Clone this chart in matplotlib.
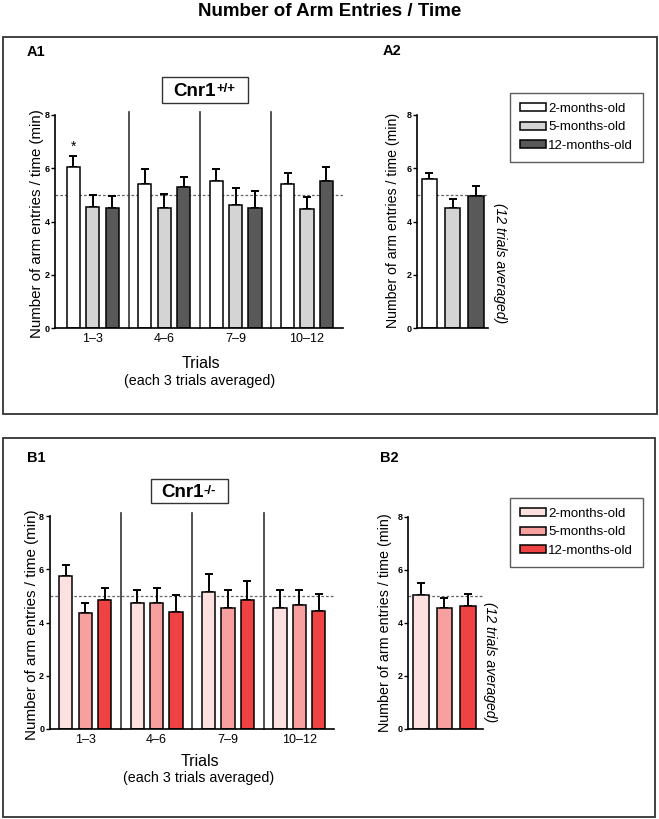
import matplotlib
matplotlib.use('Agg')
import matplotlib.pyplot as plt
from matplotlib.patches import Rectangle, Patch
import numpy as np

plt.rcParams['font.family'] = ['Liberation Sans', 'DejaVu Sans']

# ---------------- data ----------------
trial_blocks = ['1–3', '4–6', '7–9', '10–12']
age_groups = ['2-months-old', '5-months-old', '12-months-old']
chance_level = 5.0

# Cnr1+/+ (wild type), each 3 trials averaged
wt_2m = [6.04, 5.40, 5.53, 5.40]
wt_2m_sem = [0.42, 0.56, 0.46, 0.44]
wt_5m = [4.55, 4.49, 4.63, 4.46]
wt_5m_sem = [0.44, 0.54, 0.63, 0.45]
wt_12m = [4.51, 5.30, 4.51, 5.53]
wt_12m_sem = [0.44, 0.39, 0.62, 0.51]
# Cnr1+/+ 12 trials averaged
wt_avg = [5.58, 4.51, 4.95]
wt_avg_sem = [0.26, 0.32, 0.38]

# Cnr1-/- (knock out), each 3 trials averaged
ko_2m = [5.76, 4.75, 5.15, 4.56]
ko_2m_sem = [0.39, 0.48, 0.66, 0.67]
ko_5m = [4.35, 4.75, 4.56, 4.65]
ko_5m_sem = [0.40, 0.53, 0.67, 0.58]
ko_12m = [4.85, 4.40, 4.85, 4.45]
ko_12m_sem = [0.43, 0.65, 0.71, 0.61]
# Cnr1-/- 12 trials averaged
ko_avg = [5.05, 4.55, 4.65]
ko_avg_sem = [0.46, 0.37, 0.44]

wt_colors = ['#ffffff', '#d4d4d4', '#595959']
ko_colors = ['#fde0e0', '#f8a0a0', '#ef4242']

W, H = 659, 819
fig = plt.figure(figsize=(W / 100, H / 100), dpi=100)


def fx(px):
    return px / W


def fy(py):
    return 1 - py / H


def axes_px(x0, x1, y0, y1):
    return fig.add_axes([fx(x0), fy(y1), (x1 - x0) / W, (y1 - y0) / H])


def style(ax):
    for s in ['top', 'right']:
        ax.spines[s].set_visible(False)
    for s in ['left', 'bottom']:
        ax.spines[s].set_linewidth(1.2)
    ax.set_ylim(0, 8)
    ax.set_yticks([0, 2, 4, 6, 8])
    ax.tick_params(axis='y', length=3, width=1.0, pad=0.8, labelsize=6.5)
    for lab in ax.get_yticklabels():
        lab.set_fontweight('bold')
    ax.tick_params(axis='x', length=0, pad=3.5, labelsize=9)
    ax.axhline(chance_level, ls=(0, (2.2, 1.6)), color='#666666', lw=0.9, zorder=0.5)


def grouped(ax, series, sems, colors, xlim):
    x = np.arange(len(trial_blocks))
    offsets = [-0.272, 0.0, 0.272]
    for vals, err, c, off in zip(series, sems, colors, offsets):
        ax.bar(x + off, vals, width=0.185, color=c, edgecolor='black',
               linewidth=1.1, zorder=2)
        ax.errorbar(x + off, vals, yerr=[np.zeros(len(vals)), err], fmt='none',
                    ecolor='black', elinewidth=1.4, capsize=2.6, capthick=1.4,
                    zorder=1)
    for sep in x[:-1] + 0.5:
        ax.plot([sep, sep], [0, 8.1], color='#333333', lw=1.2, clip_on=False,
                zorder=1)
    ax.set_xticks(x)
    ax.set_xticklabels(trial_blocks)
    ax.set_xlim(*xlim)
    style(ax)


def averaged(ax, vals, err, colors, xlim):
    x = np.arange(len(age_groups))
    ax.bar(x, vals, width=0.66, color=colors, edgecolor='black', linewidth=1.1,
           zorder=2)
    ax.errorbar(x, vals, yerr=[np.zeros(len(vals)), err], fmt='none',
                ecolor='black', elinewidth=1.4, capsize=2.8, capthick=1.4,
                zorder=1)
    ax.set_xticks([])
    ax.set_xlim(*xlim)
    style(ax)


# ---------------- frames ----------------
for (x0, y0, x1, y1) in [(3, 37, 657, 414), (3, 438, 655, 817)]:
    fig.add_artist(Rectangle((fx(x0), fy(y1)), (x1 - x0) / W, (y1 - y0) / H,
                             transform=fig.transFigure, fill=False, lw=1.3,
                             ec='#333333'))

fig.text(0.5, fy(11.5), 'Number of Arm Entries / Time', ha='center', va='center',
         fontsize=13.5, fontweight='bold')

# ---------------- A1 ----------------
axA1 = axes_px(55, 342.7, 115, 328)
grouped(axA1, [wt_2m, wt_5m, wt_12m], [wt_2m_sem, wt_5m_sem, wt_12m_sem],
        wt_colors, (-0.53, 3.5))
axA1.text(0 - 0.272, wt_2m[0] + wt_2m_sem[0] + 0.08, '*', ha='center',
          va='bottom', fontsize=10)

# ---------------- A2 ----------------
axA2 = axes_px(416.7, 487.7, 115, 328)
averaged(axA2, wt_avg, wt_avg_sem, wt_colors, (-0.54, 2.51))

# ---------------- B1 ----------------
axB1 = axes_px(49.5, 334.3, 516, 729)
grouped(axB1, [ko_2m, ko_5m, ko_12m], [ko_2m_sem, ko_5m_sem, ko_12m_sem],
        ko_colors, (-0.5, 3.49))

# ---------------- B2 ----------------
axB2 = axes_px(408.3, 483.3, 516.7, 729)
averaged(axB2, ko_avg, ko_avg_sem, ko_colors, (-0.53, 2.66))

# ---------------- texts ----------------
ylab = 'Number of arm entries / time (min)'
fig.text(fx(37.5), fy(224), ylab, rotation=90, ha='center', va='center', fontsize=10.8)
fig.text(fx(392.5), fy(220.5), ylab, rotation=90, ha='center', va='center', fontsize=10.2)
fig.text(fx(32), fy(625), ylab, rotation=90, ha='center', va='center', fontsize=10.9)
fig.text(fx(385), fy(622.5), ylab, rotation=90, ha='center', va='center', fontsize=10.3)

fig.text(fx(500), fy(263), '(12 trials averaged)', rotation=270, ha='center',
         va='center', fontsize=10.1, style='italic')
fig.text(fx(490), fy(662), '(12 trials averaged)', rotation=270, ha='center',
         va='center', fontsize=10.1, style='italic')

fig.text(fx(201), fy(363), 'Trials', ha='center', va='center', fontsize=11.5)
fig.text(fx(200), fy(381), '(each 3 trials averaged)', ha='center', va='center', fontsize=10.3)
fig.text(fx(200), fy(762), 'Trials', ha='center', va='center', fontsize=11.5)
fig.text(fx(199), fy(778), '(each 3 trials averaged)', ha='center', va='center', fontsize=10.3)

for lab, x, y in [('A1', 27, 52.5), ('A2', 383, 51), ('B1', 27, 457.5), ('B2', 380, 458)]:
    fig.text(fx(x), fy(y), lab, ha='left', va='center', fontsize=10.5, fontweight='bold')

# genotype boxes
renderer = fig.canvas.get_renderer()
for (bx0, by0, bx1, by1, tx, base, sup) in [(162, 77, 248, 103, 173, 96.5, '+/+'),
                                            (151, 479, 228, 503, 161, 497.5, '-/-')]:
    fig.add_artist(Rectangle((fx(bx0), fy(by1)), (bx1 - bx0) / W, (by1 - by0) / H,
                             transform=fig.transFigure, fill=False, lw=1.0,
                             ec='#333333'))
    t = fig.text(fx(tx), fy(base), 'Cnr1', ha='left', va='baseline', fontsize=13.5,
                 fontweight='bold')
    bb = t.get_window_extent(renderer)
    fig.text((bb.x1 + 0.5) / W, fy(base - 4.0), sup, ha='left', va='baseline',
             fontsize=9.5, fontweight='bold')

# legends
for colors, top in [(wt_colors, 93), (ko_colors, 498)]:
    handles = [Patch(facecolor=c, edgecolor='black', linewidth=1.1) for c in colors]
    leg = fig.legend(handles, age_groups, loc='upper left',
                     bbox_to_anchor=(fx(510), fy(top)), frameon=True,
                     fancybox=False, edgecolor='#333333', fontsize=9.5,
                     handlelength=2.0, handleheight=0.55, handletextpad=0.15,
                     labelspacing=0.5, borderpad=0.75, borderaxespad=0)
    leg.get_frame().set_linewidth(1.0)

fig.savefig('out.png', dpi=100)
